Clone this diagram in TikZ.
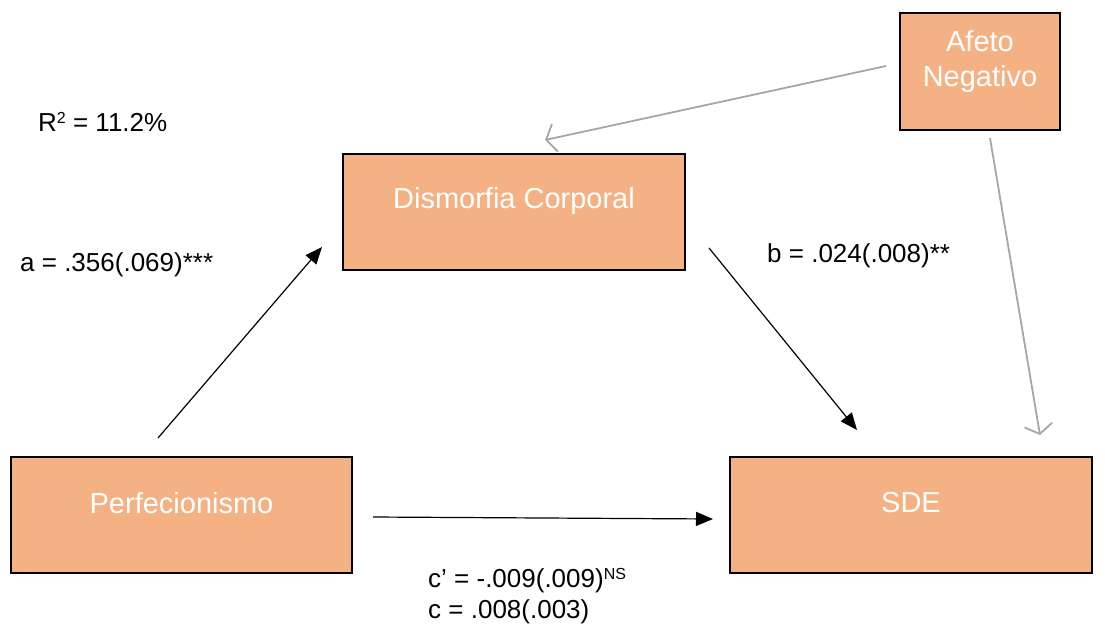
\documentclass[tikz,border=0pt]{standalone}
\usepackage{fontspec}
\setmainfont{Liberation Sans}
\usetikzlibrary{arrows.meta}
\definecolor{boxfill}{HTML}{F4B183}
\definecolor{arrgray}{HTML}{A6A6A6}
\tikzset{
  varbox/.style={draw=black, line width=2pt, fill=boxfill, inner sep=0pt},
  boxtext/.style={text=white, font=\fontsize{29}{35}\selectfont, align=center, inner sep=0pt},
  blackarrow/.style={line width=1.2pt, -{Triangle[length=17pt,width=14pt]}},
  grayarrow/.style={draw=arrgray, line width=1.8pt, -{Straight Barb[length=9pt,width=28pt,line width=1.8pt]}},
  lbl/.style={font=\fontsize{26}{30}\selectfont, anchor=west, inner sep=0pt}
}
\begin{document}
\begin{tikzpicture}[x=1pt,y=-1pt]
\useasboundingbox (0,0) rectangle (1105,626);
\node[varbox, minimum width=160pt, minimum height=117pt,
  label={[boxtext,yshift=10pt]center:Afeto\\Negativo}] (afeto) at (980,71.5) {};
\node[varbox, minimum width=342pt, minimum height=116pt,
  label={[boxtext,yshift=11pt]center:Dismorfia Corporal}] (dism) at (514,212) {};
\node[varbox, minimum width=341pt, minimum height=116pt,
  label={[boxtext,yshift=12pt]center:Perfecionismo}] (perf) at (181.5,515) {};
\node[varbox, minimum width=362pt, minimum height=116pt,
  label={[boxtext,yshift=12pt]center:SDE}] (sde) at (911,515) {};

\coordinate (p1) at (158,438); \coordinate (d1) at (322,247);
\coordinate (d2) at (709,248); \coordinate (s1) at (857,430);
\coordinate (p2) at (373,517); \coordinate (s2) at (713,519);
\coordinate (a1) at (886,66); \coordinate (d3) at (545,140);
\coordinate (a2) at (990,138); \coordinate (s3) at (1040,435);

\draw[blackarrow] (p1) -- (d1);
\draw[blackarrow] (d2) -- (s1);
\draw[blackarrow] (p2) -- (s2);
\draw[grayarrow] (a1) -- (d3);
\draw[grayarrow] (a2) -- (s3);

\node[lbl] (r2) at (38,122) {R{\raisebox{8pt}{\fontsize{16}{16}\selectfont 2}} = 11.2\%};
\node[lbl] (la) at (20,265) {a = .356(.069)***};
\node[lbl] (lb) at (767,256) {b = .024(.008)**};
\node[lbl] (lc1) at (428,581) {c’ = -.009(.009){\raisebox{8pt}{\fontsize{16}{16}\selectfont NS}}};
\node[lbl] (lc2) at (428,612) {c = .008(.003)};
\end{tikzpicture}
\end{document}
